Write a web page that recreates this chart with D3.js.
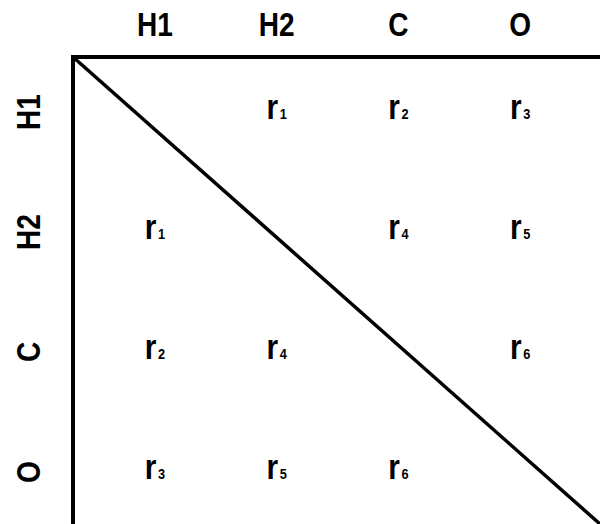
<!DOCTYPE html>
<html>
<head>
<meta charset="utf-8">
<script src="https://cdn.jsdelivr.net/npm/d3@7"></script>
<style>
  html, body { margin: 0; padding: 0; background: #fff; }
  svg { display: block; }
  text { font-family: "Liberation Sans", Arial, Helvetica, sans-serif; font-weight: bold; fill: #000; }
</style>
</head>
<body>
<svg id="chart" width="600" height="524"></svg>
<script>
// Data
const atoms = ["H1", "H2", "C", "O"];
// subscript index of r for each pair (row, column); null on the diagonal
const pairIndex = [
  [null, 1, 2, 3],
  [1, null, 4, 5],
  [2, 4, null, 6],
  [3, 5, 6, null]
];
const symbol = "r";

const W = 600, H = 524;
const narrow = 0.85;
const svg = d3.select("#chart");

const x = d3.scaleBand().domain(atoms).range([94, 581]);
const y = d3.scaleBand().domain(atoms).range([52, 532]);

const ox = 73, oy = 57;

// frame lines
svg.append("path")
  .attr("d", `M${W},${oy} H${ox} V${H}`)
  .attr("fill", "none")
  .attr("stroke", "#000")
  .attr("stroke-width", 4)
  .attr("stroke-linejoin", "miter");

svg.append("line")
  .attr("x1", ox).attr("y1", oy)
  .attr("x2", W).attr("y2", H)
  .attr("stroke", "#000")
  .attr("stroke-width", 3.5);

// column labels
svg.selectAll("text.col").data(atoms).enter().append("text")
  .attr("class", "col")
  .attr("transform", d => `translate(${x(d) + x.bandwidth() / 2},36) scale(${narrow},1)`)
  .attr("text-anchor", "middle")
  .style("font-size", "33px")
  .text(d => d);

// row labels (rotated)
svg.selectAll("text.row").data(atoms).enter().append("text")
  .attr("class", "row")
  .attr("transform", d => `translate(40,${y(d) + y.bandwidth() / 2}) rotate(-90) scale(${narrow},1)`)
  .attr("text-anchor", "middle")
  .style("font-size", "33px")
  .text(d => d);

// cells
const cells = [];
pairIndex.forEach((row, i) => row.forEach((v, j) => {
  if (v !== null) cells.push({ row: atoms[i], col: atoms[j], v });
}));

const t = svg.selectAll("text.cell").data(cells).enter().append("text")
  .attr("class", "cell")
  .attr("transform", d => `translate(${x(d.col) + x.bandwidth() / 2},${y(d.row) + y.bandwidth() / 2 + 7}) scale(${narrow},1)`)
  .attr("text-anchor", "middle")
  .style("font-size", "35px");
t.append("tspan").text(symbol);
t.append("tspan").attr("dx", 2).style("font-size", "15px").text(d => d.v);
</script>
</body>
</html>
